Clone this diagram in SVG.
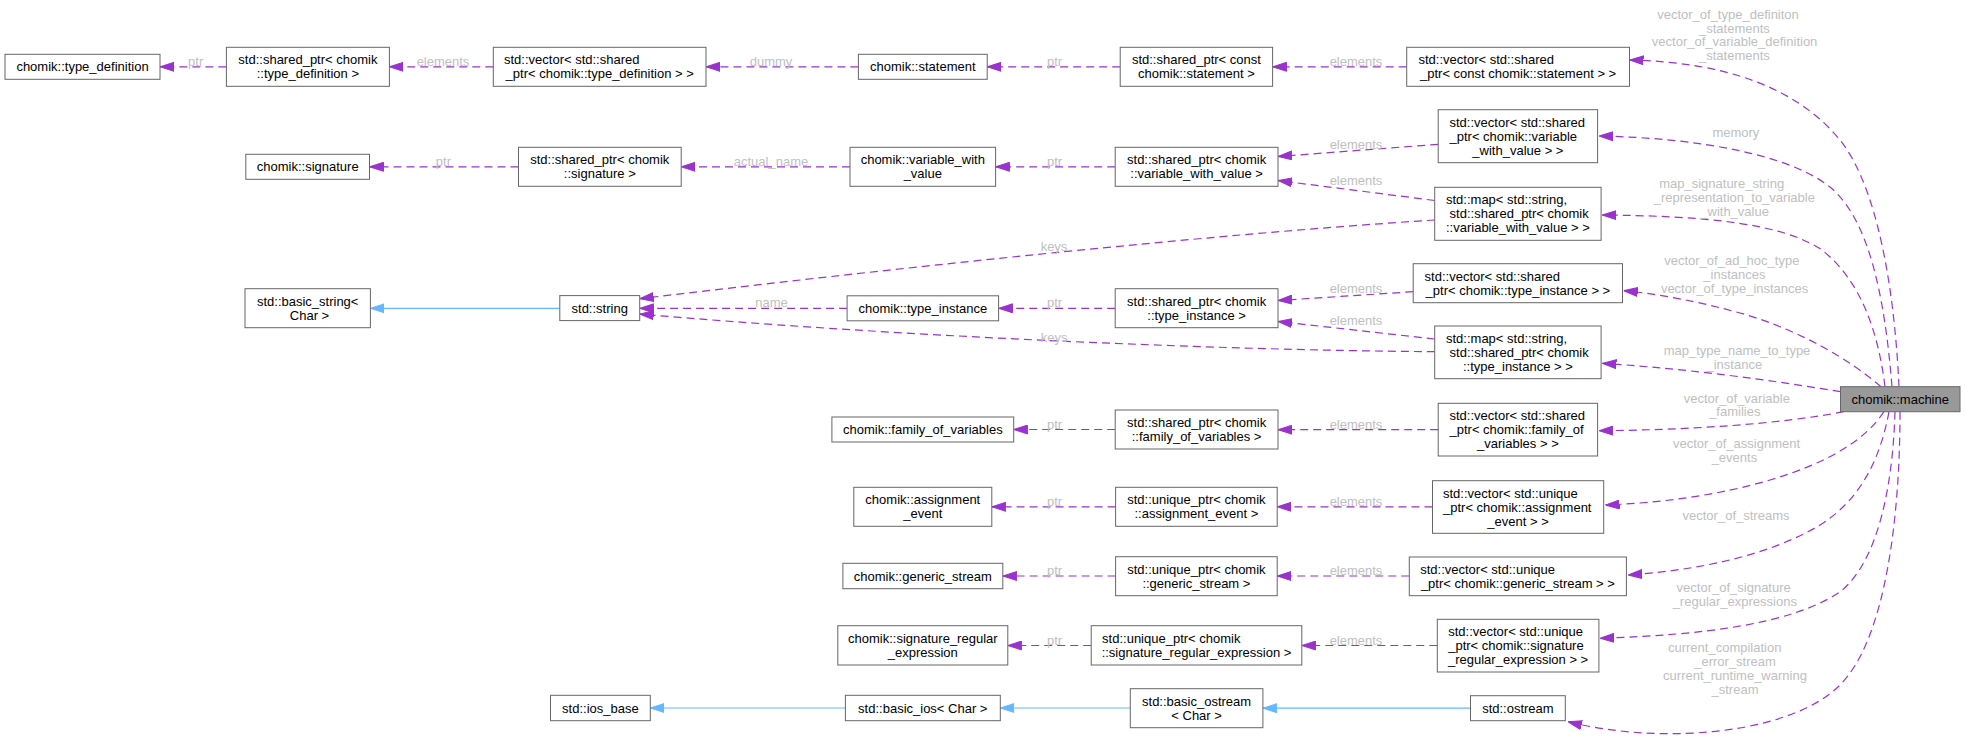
<svg xmlns="http://www.w3.org/2000/svg" width="1965" height="741" viewBox="0 0 1965 741">
<style>
text{font-family:"Liberation Sans",Arial,Helvetica,sans-serif;font-size:13px}
.node rect{fill:#ffffff;stroke:#666666;stroke-width:1}
.node text{fill:#000000}
.m{text-anchor:middle}
.e{fill:none;stroke:#9a32cd;stroke-width:1.2;stroke-dasharray:8,5}
.i{fill:none;stroke:#63b8ff;stroke-width:1.2}
.l{fill:#c0c0c0;text-anchor:middle}
</style>
<defs>
<marker id="ap" markerUnits="userSpaceOnUse" markerWidth="14" markerHeight="10" viewBox="0 0 14 10" refX="14" refY="5" orient="auto"><path d="M0,0.5 L14,5 L0,9.5 z" fill="#9a32cd" stroke="#9a32cd" stroke-width="1"/></marker>
<marker id="ab" markerUnits="userSpaceOnUse" markerWidth="14" markerHeight="10" viewBox="0 0 14 10" refX="14" refY="5" orient="auto"><path d="M0,0.5 L14,5 L0,9.5 z" fill="#63b8ff" stroke="#63b8ff" stroke-width="1"/></marker>
</defs>
<rect width="1965" height="741" fill="#ffffff"/>
<g id="connectors">
<path class="e" marker-end="url(#ap)" d="M226.4,66.8 L160,66.8"/>
<path class="e" marker-end="url(#ap)" d="M493.3,66.8 L389.3,66.8"/>
<path class="e" marker-end="url(#ap)" d="M858.4,66.8 L706,66.8"/>
<path class="e" marker-end="url(#ap)" d="M1120.2,66.8 L987.2,66.8"/>
<path class="e" marker-end="url(#ap)" d="M1406.7,66.8 L1272.6,66.8"/>
<path class="e" marker-end="url(#ap)" d="M518.5,166.8 L369.5,166.8"/>
<path class="e" marker-end="url(#ap)" d="M850,166.8 L681.2,166.8"/>
<path class="e" marker-end="url(#ap)" d="M1115.2,166.8 L995.6,166.8"/>
<path class="e" marker-end="url(#ap)" d="M1438.2,144.3 L1278,156.5"/>
<path class="e" marker-end="url(#ap)" d="M1434.7,200.5 L1278,180.5"/>
<path class="e" marker-end="url(#ap)" d="M1434.7,220 C1200,235 880,270 639.7,298.7"/>
<path class="i" marker-end="url(#ab)" d="M559.8,308.3 L370.4,308.3"/>
<path class="e" marker-end="url(#ap)" d="M847.1,308.3 L639.7,308.3"/>
<path class="e" marker-end="url(#ap)" d="M1115.2,308.3 L998.6,308.3"/>
<path class="e" marker-end="url(#ap)" d="M1413.2,291.7 L1278,300.5"/>
<path class="e" marker-end="url(#ap)" d="M1434.7,339 L1278,321.5"/>
<path class="e" marker-end="url(#ap)" d="M1434.7,351.7 C1200,350 880,335 639.7,314"/>
<path class="e" marker-end="url(#ap)" d="M1115.2,429.5 L1013.7,429.5"/>
<path class="e" marker-end="url(#ap)" d="M1438.2,429.7 L1278,429.7"/>
<path class="e" marker-end="url(#ap)" d="M1115.6,506.8 L991.8,506.8"/>
<path class="e" marker-end="url(#ap)" d="M1432.5,506.8 L1277.2,506.8"/>
<path class="e" marker-end="url(#ap)" d="M1115.6,576 L1002.8,576"/>
<path class="e" marker-end="url(#ap)" d="M1409.3,576 L1277.2,576"/>
<path class="e" marker-end="url(#ap)" d="M1091.2,645.5 L1007.8,645.5"/>
<path class="e" marker-end="url(#ap)" d="M1437.3,645.5 L1301.8,645.5"/>
<path class="i" marker-end="url(#ab)" d="M845.4,708 L650.3,708"/>
<path class="i" marker-end="url(#ab)" d="M1130.3,708 L1000.3,708"/>
<path class="i" marker-end="url(#ab)" d="M1470.5,708.2 L1262.9,708.2"/>
<path class="e" marker-end="url(#ap)" d="M1899,386.7 C1895,300 1880,190 1840,140 C1795,85 1720,62 1629.5,60"/>
<path class="e" marker-end="url(#ap)" d="M1892,386.7 C1885,300 1870,220 1830,187 C1790,155 1700,138 1599,136"/>
<path class="e" marker-end="url(#ap)" d="M1885,386.7 C1878,330 1860,280 1822,250 C1780,222 1700,216 1602.4,215"/>
<path class="e" marker-end="url(#ap)" d="M1881,386.7 C1850,360 1800,330 1740,313 C1700,302 1660,294 1623.8,290.7"/>
<path class="e" marker-end="url(#ap)" d="M1840.5,391.7 C1770,380 1690,369 1602.4,363.3"/>
<path class="e" marker-end="url(#ap)" d="M1843.6,411.7 C1780,424 1690,430 1598.9,430.7"/>
<path class="e" marker-end="url(#ap)" d="M1884,411.7 C1865,440 1830,462 1770,480 C1720,495 1660,503 1605.5,505"/>
<path class="e" marker-end="url(#ap)" d="M1889,411.7 C1880,460 1860,500 1820,525 C1770,555 1700,570 1628.2,575"/>
<path class="e" marker-end="url(#ap)" d="M1895,411.7 C1893,480 1880,560 1840,592 C1790,625 1700,635 1600.2,638.3"/>
<path class="e" marker-end="url(#ap)" d="M1900,411.7 C1900,520 1885,640 1840,685 C1790,735 1660,745 1568,721.7"/>
<text class="l" x="195.7" y="66.2">ptr</text>
<text class="l" x="443" y="66.2">elements</text>
<text class="l" x="771" y="66.2">dummy</text>
<text class="l" x="1054.6" y="66.2">ptr</text>
<text class="l" x="1356" y="66.2">elements</text>
<text class="l" x="443.4" y="166.2">ptr</text>
<text class="l" x="771" y="166.2">actual_name</text>
<text class="l" x="1054.6" y="166.2">ptr</text>
<text class="l" x="1356" y="148.8">elements</text>
<text class="l" x="1356" y="184.5">elements</text>
<text class="l" x="1054" y="251.2">keys</text>
<text class="l" x="771.5" y="307.2">name</text>
<text class="l" x="1054.6" y="307.2">ptr</text>
<text class="l" x="1356" y="293.2">elements</text>
<text class="l" x="1356" y="325.2">elements</text>
<text class="l" x="1054.2" y="342.2">keys</text>
<text class="l" x="1054.6" y="428.5">ptr</text>
<text class="l" x="1356" y="428.5">elements</text>
<text class="l" x="1054.6" y="505.5">ptr</text>
<text class="l" x="1356" y="506.2">elements</text>
<text class="l" x="1054.6" y="575.2">ptr</text>
<text class="l" x="1356" y="575.2">elements</text>
<text class="l" x="1054.6" y="644.5">ptr</text>
<text class="l" x="1356" y="644.5">elements</text>
<text class="l" x="1728" y="18.5">vector_of_type_definiton</text>
<text class="l" x="1734.4" y="32.5">_statements</text>
<text class="l" x="1734.6" y="46.2">vector_of_variable_definition</text>
<text class="l" x="1734.4" y="60.2">_statements</text>
<text class="l" x="1735.9" y="137.2">memory</text>
<text class="l" x="1721.7" y="187.8">map_signature_string</text>
<text class="l" x="1734.3" y="201.8">_representation_to_variable</text>
<text class="l" x="1734.6" y="215.8">_with_value</text>
<text class="l" x="1731.8" y="265.2">vector_of_ad_hoc_type</text>
<text class="l" x="1734.4" y="279.2">_instances</text>
<text class="l" x="1734.6" y="293.2">vector_of_type_instances</text>
<text class="l" x="1737" y="355.2">map_type_name_to_type</text>
<text class="l" x="1734.3" y="369.2">_instance</text>
<text class="l" x="1736.8" y="402.5">vector_of_variable</text>
<text class="l" x="1734.8" y="416.2">_families</text>
<text class="l" x="1736.5" y="447.8">vector_of_assignment</text>
<text class="l" x="1734.4" y="462.2">_events</text>
<text class="l" x="1736" y="520.2">vector_of_streams</text>
<text class="l" x="1733.7" y="592.2">vector_of_signature</text>
<text class="l" x="1734.8" y="606.2">_regular_expressions</text>
<text class="l" x="1724.7" y="652.2">current_compilation</text>
<text class="l" x="1735" y="666.2">_error_stream</text>
<text class="l" x="1735" y="680.2">current_runtime_warning</text>
<text class="l" x="1735" y="694.2">_stream</text>
</g>
<g id="n_type_definition" class="node"><rect x="5" y="54.3" width="155" height="25"/><text class="m" x="82.5" y="71.3">chomik::type_definition</text></g>
<g id="n_sp_type_definition" class="node"><rect x="226.4" y="47.3" width="163" height="39"/><text class="m" x="307.9" y="64.3">std::shared_ptr&lt; chomik</text><text class="m" x="307.9" y="78.3">::type_definition &gt;</text></g>
<g id="n_vec_type_definition" class="node"><rect x="493.3" y="47.3" width="212.7" height="39"/><text x="504" y="64.3">std::vector&lt; std::shared</text><text class="m" x="599.7" y="78.3">_ptr&lt; chomik::type_definition &gt; &gt;</text></g>
<g id="n_statement" class="node"><rect x="858.4" y="54.3" width="128.8" height="25"/><text class="m" x="922.8" y="71.3">chomik::statement</text></g>
<g id="n_sp_statement" class="node"><rect x="1120.2" y="47.3" width="152.4" height="39"/><text class="m" x="1196.4" y="64.3">std::shared_ptr&lt; const</text><text class="m" x="1196.4" y="78.3">chomik::statement &gt;</text></g>
<g id="n_vec_statement" class="node"><rect x="1406.7" y="47.3" width="222.8" height="39"/><text x="1418.5" y="64.3">std::vector&lt; std::shared</text><text class="m" x="1518.1" y="78.3">_ptr&lt; const chomik::statement &gt; &gt;</text></g>
<g id="n_signature" class="node"><rect x="245.8" y="154.3" width="123.7" height="25"/><text class="m" x="307.7" y="171.3">chomik::signature</text></g>
<g id="n_sp_signature" class="node"><rect x="518.5" y="147.3" width="162.7" height="39"/><text class="m" x="599.8" y="164.3">std::shared_ptr&lt; chomik</text><text class="m" x="599.8" y="178.3">::signature &gt;</text></g>
<g id="n_variable_with_value" class="node"><rect x="850" y="147.3" width="145.6" height="39"/><text class="m" x="922.8" y="164.3">chomik::variable_with</text><text class="m" x="922.8" y="178.3">_value</text></g>
<g id="n_sp_variable_with_value" class="node"><rect x="1115.2" y="147.3" width="162.8" height="39"/><text class="m" x="1196.6" y="164.3">std::shared_ptr&lt; chomik</text><text class="m" x="1196.6" y="178.3">::variable_with_value &gt;</text></g>
<g id="n_vec_variable_with_value" class="node"><rect x="1438.2" y="109.7" width="159.4" height="53"/><text x="1449.5" y="126.7">std::vector&lt; std::shared</text><text x="1449.5" y="140.7">_ptr&lt; chomik::variable</text><text class="m" x="1517.9" y="154.7">_with_value &gt; &gt;</text></g>
<g id="n_map_variable_with_value" class="node"><rect x="1434.7" y="187.3" width="166.4" height="53"/><text x="1446" y="204.3">std::map&lt; std::string,</text><text x="1449.6" y="218.3">std::shared_ptr&lt; chomik</text><text class="m" x="1517.9" y="232.3">::variable_with_value &gt; &gt;</text></g>
<g id="n_basic_string" class="node"><rect x="245" y="288.7" width="125.4" height="39"/><text class="m" x="307.7" y="305.7">std::basic_string&lt;</text><text class="m" x="309.5" y="319.7">Char &gt;</text></g>
<g id="n_string" class="node"><rect x="559.8" y="295.6" width="79.9" height="25"/><text class="m" x="599.7" y="312.6">std::string</text></g>
<g id="n_type_instance" class="node"><rect x="847.1" y="295.8" width="151.5" height="25"/><text class="m" x="922.9" y="312.8">chomik::type_instance</text></g>
<g id="n_sp_type_instance" class="node"><rect x="1115.2" y="288.7" width="162.8" height="39"/><text class="m" x="1196.6" y="305.8">std::shared_ptr&lt; chomik</text><text class="m" x="1196.6" y="319.8">::type_instance &gt;</text></g>
<g id="n_vec_type_instance" class="node"><rect x="1413.2" y="263.7" width="209.3" height="39"/><text x="1424.6" y="280.5">std::vector&lt; std::shared</text><text class="m" x="1517.9" y="294.5">_ptr&lt; chomik::type_instance &gt; &gt;</text></g>
<g id="n_map_type_instance" class="node"><rect x="1434.7" y="326" width="166.4" height="52.7"/><text x="1446" y="342.8">std::map&lt; std::string,</text><text x="1449.6" y="356.8">std::shared_ptr&lt; chomik</text><text class="m" x="1517.9" y="370.8">::type_instance &gt; &gt;</text></g>
<g id="n_machine" class="node"><rect x="1840.5" y="386.7" width="119.5" height="25" style="fill:#999999"/><text class="m" x="1900.2" y="403.7">chomik::machine</text></g>
<g id="n_family_of_variables" class="node"><rect x="831.9" y="417" width="181.8" height="25"/><text class="m" x="922.8" y="434">chomik::family_of_variables</text></g>
<g id="n_sp_family_of_variables" class="node"><rect x="1115.2" y="410" width="162.8" height="39"/><text class="m" x="1196.6" y="427">std::shared_ptr&lt; chomik</text><text class="m" x="1196.6" y="441">::family_of_variables &gt;</text></g>
<g id="n_vec_family_of_variables" class="node"><rect x="1438.2" y="403.3" width="159.4" height="52.7"/><text x="1449.5" y="420.2">std::vector&lt; std::shared</text><text x="1449.5" y="434.2">_ptr&lt; chomik::family_of</text><text class="m" x="1517.9" y="448.2">_variables &gt; &gt;</text></g>
<g id="n_assignment_event" class="node"><rect x="853.8" y="487.3" width="138" height="39"/><text class="m" x="922.8" y="504.3">chomik::assignment</text><text class="m" x="922.8" y="518.3">_event</text></g>
<g id="n_up_assignment_event" class="node"><rect x="1115.6" y="487.3" width="161.6" height="39"/><text class="m" x="1196.4" y="504.3">std::unique_ptr&lt; chomik</text><text class="m" x="1196.4" y="518.3">::assignment_event &gt;</text></g>
<g id="n_vec_assignment_event" class="node"><rect x="1432.5" y="480.7" width="171.2" height="52.6"/><text x="1443" y="497.5">std::vector&lt; std::unique</text><text x="1443" y="511.5">_ptr&lt; chomik::assignment</text><text class="m" x="1518.1" y="525.5">_event &gt; &gt;</text></g>
<g id="n_generic_stream" class="node"><rect x="842.9" y="563.3" width="159.9" height="25.4"/><text class="m" x="922.8" y="580.5">chomik::generic_stream</text></g>
<g id="n_up_generic_stream" class="node"><rect x="1115.6" y="556.7" width="161.6" height="39"/><text class="m" x="1196.4" y="573.7">std::unique_ptr&lt; chomik</text><text class="m" x="1196.4" y="587.7">::generic_stream &gt;</text></g>
<g id="n_vec_generic_stream" class="node"><rect x="1409.3" y="557" width="217.1" height="38.7"/><text x="1420.2" y="573.8">std::vector&lt; std::unique</text><text class="m" x="1517.9" y="587.8">_ptr&lt; chomik::generic_stream &gt; &gt;</text></g>
<g id="n_signature_regular_expression" class="node"><rect x="837.8" y="625.7" width="170" height="39.3"/><text class="m" x="922.8" y="642.8">chomik::signature_regular</text><text class="m" x="922.8" y="656.8">_expression</text></g>
<g id="n_up_signature_regular_expression" class="node"><rect x="1091.2" y="625.7" width="210.6" height="39.3"/><text x="1102.1" y="642.8">std::unique_ptr&lt; chomik</text><text class="m" x="1196.5" y="656.8">::signature_regular_expression &gt;</text></g>
<g id="n_vec_signature_regular_expression" class="node"><rect x="1437.3" y="619.3" width="161.6" height="52.7"/><text x="1448.2" y="636.2">std::vector&lt; std::unique</text><text x="1448.2" y="650.2">_ptr&lt; chomik::signature</text><text class="m" x="1518.1" y="664.2">_regular_expression &gt; &gt;</text></g>
<g id="n_ostream" class="node"><rect x="1470.5" y="695.7" width="94.8" height="25"/><text class="m" x="1517.9" y="712.7">std::ostream</text></g>
<g id="n_basic_ostream" class="node"><rect x="1130.3" y="688.7" width="132.6" height="39"/><text class="m" x="1196.6" y="705.7">std::basic_ostream</text><text class="m" x="1196.6" y="719.7">&lt; Char &gt;</text></g>
<g id="n_basic_ios" class="node"><rect x="845.4" y="695.3" width="154.9" height="25.4"/><text class="m" x="922.8" y="712.5">std::basic_ios&lt; Char &gt;</text></g>
<g id="n_ios_base" class="node"><rect x="550.5" y="695.3" width="99.8" height="25.4"/><text class="m" x="600.4" y="712.5">std::ios_base</text></g>
</svg>
